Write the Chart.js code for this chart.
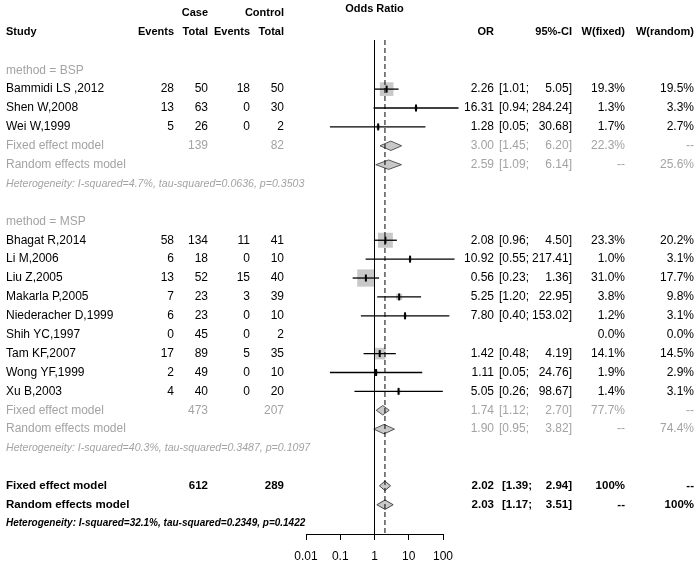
<!DOCTYPE html>
<html>
<head>
<meta charset="utf-8">
<script src="https://cdn.jsdelivr.net/npm/chart.js@4.4.1/dist/chart.umd.min.js"></script>
<style>
  html, body { margin: 0; padding: 0; background: #fff; }
  #wrap { width: 700px; height: 564px; position: relative; }
</style>
</head>
<body>
<div id="wrap"><canvas id="forest"></canvas></div>
<script>
// study level data
const studies = ['Bammidi LS ,2012', 'Shen W,2008', 'Wei W,1999', 'Bhagat R,2014', 'Li M,2006', 'Liu Z,2005',
  'Makarla P,2005', 'Niederacher D,1999', 'Shih YC,1997', 'Tam KF,2007', 'Wong YF,1999', 'Xu B,2003'];
const methods = ['BSP', 'BSP', 'BSP', 'MSP', 'MSP', 'MSP', 'MSP', 'MSP', 'MSP', 'MSP', 'MSP', 'MSP'];
const caseEvents = [28, 13, 5, 58, 6, 13, 7, 6, 0, 17, 2, 4];
const caseTotal = [50, 63, 26, 134, 18, 52, 23, 23, 45, 89, 49, 40];
const ctrlEvents = [18, 0, 0, 11, 0, 15, 3, 0, 0, 5, 0, 0];
const ctrlTotal = [50, 30, 2, 41, 10, 40, 39, 10, 2, 35, 10, 20];
const oddsRatio = [2.26, 16.31, 1.28, 2.08, 10.92, 0.56, 5.25, 7.80, null, 1.42, 1.11, 5.05];
const ciLower = [1.01, 0.94, 0.05, 0.96, 0.55, 0.23, 1.20, 0.40, null, 0.48, 0.05, 0.26];
const ciUpper = [5.05, 284.24, 30.68, 4.50, 217.41, 1.36, 22.95, 153.02, null, 4.19, 24.76, 98.67];
const wFixed = [19.3, 1.3, 1.7, 23.3, 1.0, 31.0, 3.8, 1.2, 0.0, 14.1, 1.9, 1.4];
const wRandom = [19.5, 3.3, 2.7, 20.2, 3.1, 17.7, 9.8, 3.1, 0.0, 14.5, 2.9, 3.1];

// subgroup summaries
const groups = ['BSP', 'MSP'];
const groupCaseTotal = [139, 473];
const groupCtrlTotal = [82, 207];
const groupFixed = [[3.00, 1.45, 6.20], [1.74, 1.12, 2.70]];
const groupFixedW = [22.3, 77.7];
const groupRandom = [[2.59, 1.09, 6.14], [1.90, 0.95, 3.82]];
const groupRandomW = [25.6, 74.4];
const groupHet = ['Heterogeneity: I-squared=4.7%, tau-squared=0.0636, p=0.3503',
  'Heterogeneity: I-squared=40.3%, tau-squared=0.3487, p=0.1097'];

// overall
const overallCase = 612;
const overallCtrl = 289;
const overallFixed = [2.02, 1.39, 2.94];
const overallRandom = [2.03, 1.17, 3.51];
const overallHet = 'Heterogeneity: I-squared=32.1%, tau-squared=0.2349, p=0.1422';

const axisTicks = ['0.01', '0.1', '1', '10', '100'];

const L = v => Math.log10(v);
const GRAY = '#a3a3a3';
const FILL = '#c8c8c8';
const yTop = -1.6;
const yBottom = 24.55;

// row layout
const rows = [];
let r = 0;
groups.forEach((g, gi) => {
  rows.push({ kind: 'method', row: r++, gi });
  studies.forEach((s, i) => {
    if (methods[i] === g) rows.push({ kind: 'study', row: r++, i });
  });
  rows.push({ kind: 'fixed', row: r++, gi });
  rows.push({ kind: 'random', row: r++, gi });
  rows.push({ kind: 'het', row: r++, gi });
  r++;
});
rows.push({ kind: 'ofixed', row: r++ });
rows.push({ kind: 'orandom', row: r++ });
rows.push({ kind: 'ohet', row: r++ });

const studyRows = rows.filter(x => x.kind === 'study' && oddsRatio[x.i] !== null);

function diamond(est, row, color, order) {
  const h = 0.25;
  return {
    data: [
      { x: L(est[1]), y: row }, { x: L(est[0]), y: row - h },
      { x: L(est[2]), y: row }, { x: L(est[0]), y: row + h }, { x: L(est[1]), y: row }
    ],
    showLine: true,
    fill: 'shape',
    backgroundColor: FILL,
    borderColor: color,
    borderWidth: 1,
    pointRadius: 0,
    clip: false,
    order: order
  };
}

const datasets = [];

// reference line at OR = 1 and dashed line at overall fixed estimate
datasets.push({
  data: [{ x: 0, y: yTop }, { x: 0, y: yBottom }],
  showLine: true, borderColor: '#000', borderWidth: 1, pointRadius: 0, order: 2
});
datasets.push({
  data: [{ x: L(overallFixed[0]), y: yTop }, { x: L(overallFixed[0]), y: yBottom }],
  showLine: true, borderColor: '#000', borderWidth: 1, borderDash: [5, 3], pointRadius: 0, order: 2
});

// squares
datasets.push({
  data: studyRows.map(x => ({ x: L(oddsRatio[x.i]), y: x.row })),
  pointStyle: 'rect',
  pointRadius: studyRows.map(x => 3.1 * Math.sqrt(wFixed[x.i]) / 1.414),
  backgroundColor: FILL,
  borderWidth: 0,
  clip: false,
  order: 5
});

// CI whiskers
studyRows.forEach(x => {
  datasets.push({
    data: [{ x: L(ciLower[x.i]), y: x.row }, { x: L(ciUpper[x.i]), y: x.row }],
    showLine: true, borderColor: '#000', borderWidth: 1.3, pointRadius: 0, clip: false, order: 3
  });
});

// point estimate ticks
datasets.push({
  data: studyRows.map(x => ({ x: L(oddsRatio[x.i]), y: x.row })),
  pointStyle: 'line',
  rotation: 90,
  pointRadius: 3.5,
  borderColor: '#000',
  borderWidth: 2,
  clip: false,
  order: 1
});

// diamonds
rows.forEach(x => {
  if (x.kind === 'fixed') datasets.push(diamond(groupFixed[x.gi], x.row, '#555', 4));
  if (x.kind === 'random') datasets.push(diamond(groupRandom[x.gi], x.row, '#555', 4));
  if (x.kind === 'ofixed') datasets.push(diamond(overallFixed, x.row, '#444', 4));
  if (x.kind === 'orandom') datasets.push(diamond(overallRandom, x.row, '#444', 4));
});

const col = { study: 6, ce: 174, ct: 208, oe: 250, ot: 284, or: 494, ciL: 529, ciLb: 532, ciR: 572, wf: 625, wr: 694 };
const FONT = '"Liberation Sans", Arial, sans-serif';
const REG = '12px ' + FONT;
const BOLD = 'bold 11.5px ' + FONT;

const fmtW = w => (w === 100 ? '100%' : w.toFixed(1) + '%');

const textPlugin = {
  id: 'forestText',
  afterDraw(chart) {
    const ctx = chart.ctx;
    const ys = chart.scales.y;
    const xs = chart.scales.x;
    ctx.save();
    ctx.textBaseline = 'middle';
    const t = (s, x, y, align, font, color) => {
      ctx.font = font;
      ctx.fillStyle = color;
      ctx.textAlign = align;
      ctx.fillText(s, x, y);
    };
    const estCols = (est, y, font, color) => {
      t(est[0].toFixed(2), col.or, y, 'right', font, color);
      t('[' + est[1].toFixed(2) + ';', font === BOLD ? col.ciLb : col.ciL, y, 'right', font, color);
      t(est[2].toFixed(2) + ']', col.ciR, y, 'right', font, color);
    };

    // header
    const hdr = 'bold 11px ' + FONT;
    t('Odds Ratio', (xs.left + xs.right) / 2, 9, 'center', hdr, '#000');
    t('Case', col.ct, 13, 'right', hdr, '#000');
    t('Control', col.ot, 13, 'right', hdr, '#000');
    t('Study', col.study, 32, 'left', hdr, '#000');
    t('Events', col.ce, 32, 'right', hdr, '#000');
    t('Total', col.ct, 32, 'right', hdr, '#000');
    t('Events', col.oe, 32, 'right', hdr, '#000');
    t('Total', col.ot, 32, 'right', hdr, '#000');
    t('OR', col.or, 32, 'right', hdr, '#000');
    t('95%-CI', col.ciR, 32, 'right', hdr, '#000');
    t('W(fixed)', col.wf, 32, 'right', hdr, '#000');
    t('W(random)', col.wr, 32, 'right', hdr, '#000');

    rows.forEach(x => {
      const y = ys.getPixelForValue(x.row);
      if (x.kind === 'method') {
        t('method = ' + groups[x.gi], col.study, y, 'left', REG, GRAY);
      } else if (x.kind === 'study') {
        const i = x.i;
        t(studies[i], col.study, y, 'left', REG, '#000');
        t(String(caseEvents[i]), col.ce, y, 'right', REG, '#000');
        t(String(caseTotal[i]), col.ct, y, 'right', REG, '#000');
        t(String(ctrlEvents[i]), col.oe, y, 'right', REG, '#000');
        t(String(ctrlTotal[i]), col.ot, y, 'right', REG, '#000');
        if (oddsRatio[i] !== null) estCols([oddsRatio[i], ciLower[i], ciUpper[i]], y, REG, '#000');
        t(fmtW(wFixed[i]), col.wf, y, 'right', REG, '#000');
        t(fmtW(wRandom[i]), col.wr, y, 'right', REG, '#000');
      } else if (x.kind === 'fixed') {
        t('Fixed effect model', col.study, y, 'left', REG, GRAY);
        t(String(groupCaseTotal[x.gi]), col.ct, y, 'right', REG, GRAY);
        t(String(groupCtrlTotal[x.gi]), col.ot, y, 'right', REG, GRAY);
        estCols(groupFixed[x.gi], y, REG, GRAY);
        t(fmtW(groupFixedW[x.gi]), col.wf, y, 'right', REG, GRAY);
        t('--', col.wr, y, 'right', REG, GRAY);
      } else if (x.kind === 'random') {
        t('Random effects model', col.study, y, 'left', REG, GRAY);
        estCols(groupRandom[x.gi], y, REG, GRAY);
        t('--', col.wf, y, 'right', REG, GRAY);
        t(fmtW(groupRandomW[x.gi]), col.wr, y, 'right', REG, GRAY);
      } else if (x.kind === 'het') {
        t(groupHet[x.gi], col.study, y, 'left', 'italic 10.6px ' + FONT, GRAY);
      } else if (x.kind === 'ofixed') {
        t('Fixed effect model', col.study, y, 'left', BOLD, '#000');
        t(String(overallCase), col.ct, y, 'right', BOLD, '#000');
        t(String(overallCtrl), col.ot, y, 'right', BOLD, '#000');
        estCols(overallFixed, y, BOLD, '#000');
        t('100%', col.wf, y, 'right', BOLD, '#000');
        t('--', col.wr, y, 'right', BOLD, '#000');
      } else if (x.kind === 'orandom') {
        t('Random effects model', col.study, y, 'left', BOLD, '#000');
        estCols(overallRandom, y, BOLD, '#000');
        t('--', col.wf, y, 'right', BOLD, '#000');
        t('100%', col.wr, y, 'right', BOLD, '#000');
      } else if (x.kind === 'ohet') {
        t(overallHet, col.study, y, 'left', 'italic bold 10px ' + FONT, '#000');
      }
    });
    ctx.restore();
  }
};

new Chart(document.getElementById('forest'), {
  type: 'scatter',
  data: { datasets },
  options: {
    responsive: true,
    maintainAspectRatio: false,
    animation: false,
    events: [],
    layout: { padding: { left: 306, right: 257, top: 40, bottom: 0 } },
    plugins: { legend: { display: false }, tooltip: { enabled: false } },
    scales: {
      x: {
        type: 'linear',
        min: -2,
        max: 2,
        afterFit: s => { s.height = 30; },
        afterBuildTicks: s => { s.ticks = axisTicks.map((v, k) => ({ value: k - 2 })); },
        ticks: {
          autoSkip: false,
          maxRotation: 0,
          padding: 9,
          color: '#000',
          font: { family: FONT, size: 12 },
          callback: (v, k) => axisTicks[k]
        },
        grid: { drawOnChartArea: false, tickLength: 6, color: '#000' },
        border: { display: true, color: '#000', width: 1 }
      },
      y: {
        type: 'linear',
        display: false,
        reverse: true,
        min: yTop,
        max: yBottom
      }
    }
  },
  plugins: [textPlugin]
});
</script>
</body>
</html>
